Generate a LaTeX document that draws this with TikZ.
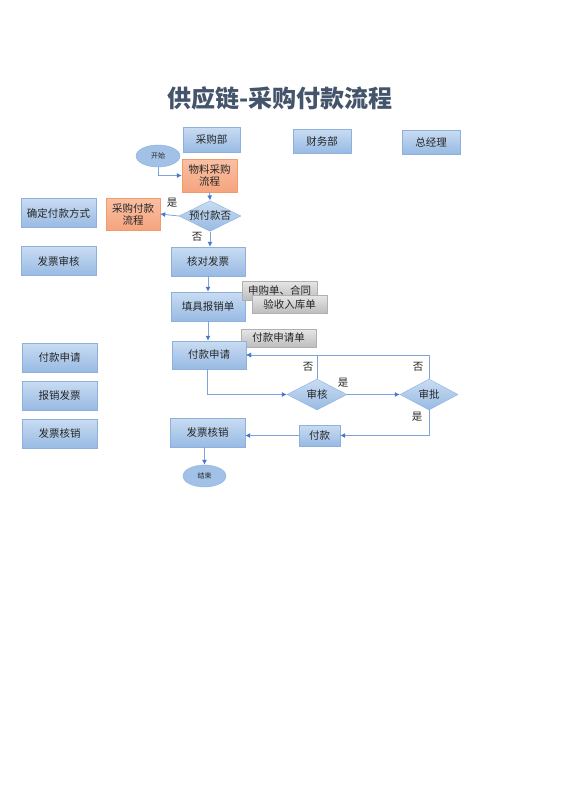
\documentclass[tikz,border=0pt]{standalone}
\usepackage{fontspec}
\newfontfamily\cjk{Noto Sans CJK SC}
\usetikzlibrary{shapes.geometric,arrows.meta}
\definecolor{btop}{HTML}{C9DCF2}
\definecolor{bbot}{HTML}{98BAE3}
\definecolor{bbord}{HTML}{8DB0DC}
\definecolor{otop}{HTML}{F9C0A4}
\definecolor{obot}{HTML}{F5A47E}
\definecolor{obord}{HTML}{F19A6C}
\definecolor{gtop}{HTML}{E6E6E6}
\definecolor{gbot}{HTML}{BDBDBD}
\definecolor{gbord}{HTML}{B0B0B0}
\definecolor{lnc}{HTML}{7DA3DA}
\definecolor{tipc}{HTML}{4A78CC}
\definecolor{txt}{HTML}{262626}
\definecolor{titlec}{HTML}{44546A}
\tikzset{
  base/.style={inner sep=0pt, text=txt, font=\cjk\fontsize{10.5}{12}\selectfont},
  bluebox/.style={base, draw=bbord, top color=btop, bottom color=bbot, minimum width=75pt, minimum height=29pt},
  orangebox/.style={base, draw=obord, top color=otop, bottom color=obot, minimum width=55pt, minimum height=33pt, align=center},
  graybox/.style={base, draw=gbord, top color=gtop, bottom color=gbot, minimum width=75pt, minimum height=19pt},
  dia/.style={base, diamond, draw=bbord, top color=btop, bottom color=bbot, aspect=2},
  ell/.style={base, ellipse, draw=bbord, fill=bbot!80!btop, minimum width=44pt, minimum height=22pt, font=\cjk\fontsize{7}{8}\selectfont},
  arr/.style={draw=lnc, line width=0.8pt, -{Latex[length=5pt,width=5pt,color=tipc]}},
  lbl/.style={inner sep=0pt, text=txt, font=\cjk\fontsize{10.5}{12}\selectfont}
}
\begin{document}
\begin{tikzpicture}[x=1pt,y=-1pt]
\useasboundingbox (0,0) rectangle (560,792);
\node[inner sep=0pt, text=titlec, font=\cjk\bfseries\fontsize{24}{28}\selectfont] (title) at (280,98) {供应链-采购付款流程};
% headers
\node[bluebox, minimum width=57pt, minimum height=25pt] (cgb) at (211.5,139.5) {采购部};
\node[bluebox, minimum width=58pt, minimum height=24pt] (cwb) at (322,141) {财务部};
\node[bluebox, minimum width=58pt, minimum height=24pt] (zjl) at (431,142) {总经理};
% left column
\node[bluebox] (qdfk) at (58.5,213) {确定付款方式};
\node[bluebox] (fpsh) at (58.5,261) {发票审核};
\node[bluebox] (lfksq) at (59.5,357.5) {付款申请};
\node[bluebox] (bxfp) at (59.5,395.5) {报销发票};
\node[bluebox] (lfphx) at (59.5,433.5) {发票核销};
% main flow
\node[ell] (start) at (158,156) {开始};
\node[orangebox] (wuliao) at (209.5,175.5) {物料采购\\流程};
\node[dia, minimum width=62pt, minimum height=30pt] (yufu) at (210,216) {预付款否};
\node[orangebox, minimum width=54pt, minimum height=32pt] (cgfk) at (133,214) {采购付款\\流程};
\node[bluebox, minimum width=74pt] (hedui) at (208,261.5) {核对发票};
\node[bluebox, minimum width=74pt] (tianju) at (208,306.5) {填具报销单};
\node[graybox] (sgd) at (279.5,290.5) {申购单、合同};
\node[graybox, minimum height=18pt] (ysrk) at (289.5,304) {验收入库单};
\node[graybox, minimum height=18pt] (fksqd) at (278.5,338) {付款申请单};
\node[bluebox, minimum width=74pt, minimum height=28pt] (fksq) at (209,355) {付款申请};
\node[dia, minimum width=60pt, minimum height=31pt] (shenhe) at (317,394.5) {审核};
\node[dia, minimum width=58pt, minimum height=31pt] (shenpi) at (429,394.5) {审批};
\node[bluebox, minimum width=41pt, minimum height=21pt] (fukuan) at (319.5,435.5) {付款};
\node[bluebox, minimum width=75pt, minimum height=29pt] (fpjx) at (207.5,432.5) {发票核销};
\node[ell, minimum width=43pt] (end) at (204.5,476) {结束};
% connectors
\draw[arr] (start.south) |- (wuliao.west);
\draw[arr] (wuliao.south) -- (yufu.north);
\draw[arr] (yufu.west) -- (cgfk.east);
\draw[arr] (yufu.south) -- (yufu.south |- hedui.north);
\draw[arr] (hedui.south) -- (tianju.north);
\draw[arr] (tianju.south) -- (tianju.south |- fksq.north);
\draw[arr] (fksq.south -| 207,0) |- (shenhe.west);
\draw[arr] (shenhe.east) -- (shenpi.west);
\draw[arr] (shenhe.north) |- (fksq.east);
\draw[arr] (shenpi.north) |- (fksq.east);
\draw[arr] (shenpi.south) |- (fukuan.east);
\draw[arr] (fukuan.west) -- (fukuan.west -| fpjx.east);
\draw[arr] (end.north |- fpjx.south) -- (end.north);
% labels
\node[lbl] (l1) at (172,203) {是};
\node[lbl] (l2) at (197,237) {否};
\node[lbl] (l3) at (308,367) {否};
\node[lbl] (l4) at (343,383) {是};
\node[lbl] (l5) at (418,367) {否};
\node[lbl] (l6) at (417,417) {是};
\end{tikzpicture}
\end{document}
